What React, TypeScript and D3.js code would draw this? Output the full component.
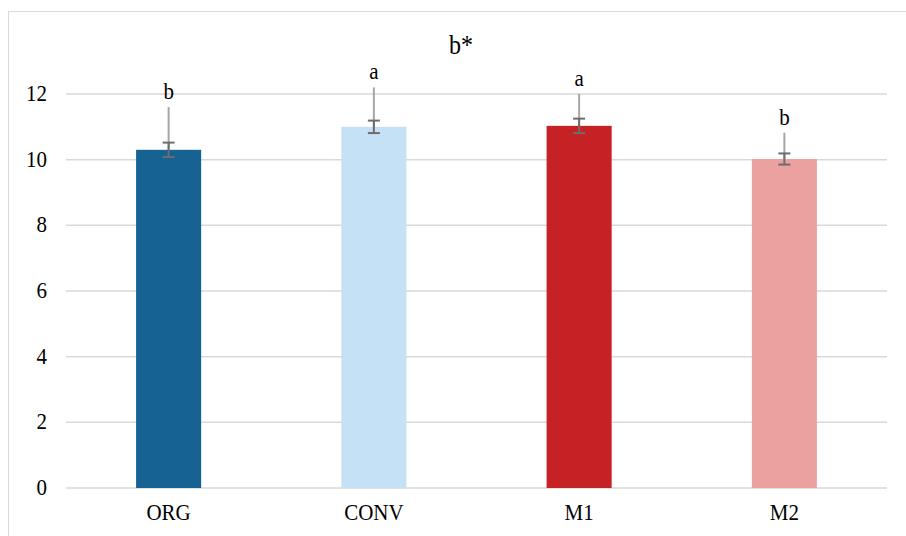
import React from "react";
import * as d3 from "d3";

const categories = ["ORG", "CONV", "M1", "M2"];
const means = [10.3, 11.0, 11.03, 10.02];
const sd = [0.22, 0.19, 0.22, 0.17];
const upperRange = [11.6, 12.2, 12.0, 10.82];
const letters = ["b", "a", "a", "b"];
const yTicks = [0, 2, 4, 6, 8, 10, 12];
const colors = ["#156293", "#c5e1f6", "#c62226", "#eca1a1"];
const title = "b*";

const W = 906;
const H = 536;
const margin = { left: 66, right: 19, top: 94, bottom: 48 };

// Text with a slight vertical stretch, as in the original export
function Label(props: { x: number; y: number; size: number; anchor?: string; dy?: string; children: React.ReactNode }) {
  const { x, y, size, anchor = "middle", dy, children } = props;
  return (
    <text
      transform={`translate(${x},${y}) scale(1,1.1)`}
      dy={dy}
      textAnchor={anchor}
      fontSize={size}
      fill="#000"
    >
      {children}
    </text>
  );
}

export default function App() {
  const x = d3
    .scaleBand<string>()
    .domain(categories)
    .range([margin.left, W - margin.right])
    .paddingInner(0.683)
    .paddingOuter(0.3415);
  const y = d3.scaleLinear().domain([0, 12]).range([H - margin.bottom, margin.top]);
  const font = "'Liberation Serif', 'Times New Roman', serif";
  const capW = 6;

  return (
    <svg
      width={W}
      height={H}
      style={{ position: "fixed", left: 0, top: 0, background: "#fff" }}
      fontFamily={font}
    >
      <rect x={8.5} y={11.5} width={W + 10} height={H + 10} fill="none" stroke="#d9d9d9" strokeWidth={1} />
      <Label x={461} y={54} size={24}>
        {title}
      </Label>
      {yTicks.map((t) => (
        <g key={t}>
          <line
            x1={margin.left}
            x2={W - margin.right}
            y1={y(t)}
            y2={y(t)}
            stroke="#d9d9d9"
            strokeWidth={1.5}
          />
          <Label x={47} y={y(t) + 7} size={21} anchor="end">
            {t}
          </Label>
        </g>
      ))}
      {categories.map((c, i) => {
        const bx = x(c)!;
        const cx = bx + x.bandwidth() / 2;
        return (
          <g key={c}>
            <rect x={bx} y={y(means[i])} width={x.bandwidth()} height={y(0) - y(means[i])} fill={colors[i]} />
            <line x1={cx} x2={cx} y1={y(means[i])} y2={y(upperRange[i])} stroke="#a6a6a6" strokeWidth={2} />
            <line x1={cx} x2={cx} y1={y(means[i] + sd[i])} y2={y(means[i] - sd[i])} stroke="#6d6d6d" strokeWidth={2} />
            <line x1={cx - capW} x2={cx + capW} y1={y(means[i] + sd[i])} y2={y(means[i] + sd[i])} stroke="#6d6d6d" strokeWidth={2} />
            <line x1={cx - capW} x2={cx + capW} y1={y(means[i] - sd[i])} y2={y(means[i] - sd[i])} stroke="#6d6d6d" strokeWidth={2} />
            <Label x={cx} y={y(upperRange[i]) - 8} size={21}>
              {letters[i]}
            </Label>
            <Label x={cx} y={520} size={21}>
              {c}
            </Label>
          </g>
        );
      })}
    </svg>
  );
}
